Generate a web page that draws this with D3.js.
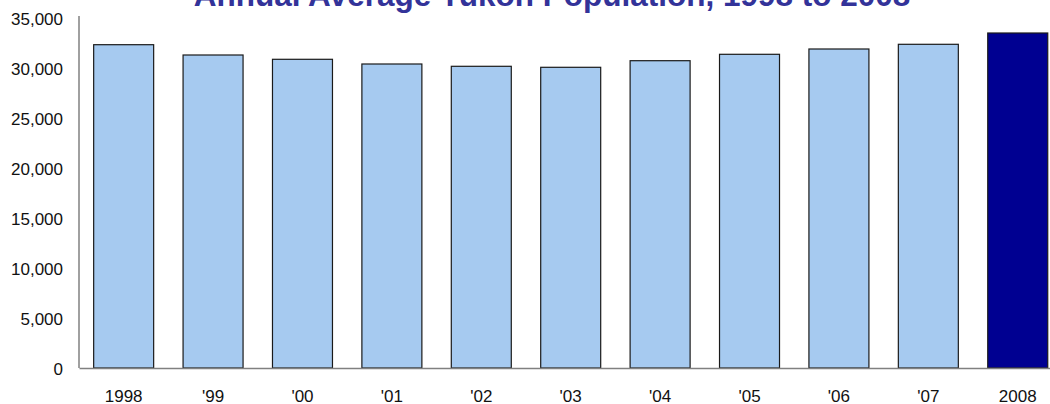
<!DOCTYPE html>
<html>
<head>
<meta charset="utf-8">
<script src="https://cdn.jsdelivr.net/npm/d3@7"></script>
<style>
  body { margin: 0; background: #fff; }
  svg { display: block; font-family: "Liberation Sans", Arial, sans-serif; }
</style>
</head>
<body>
<svg id="chart" width="1050" height="404"></svg>
<script>
var years  = ["1998", "'99", "'00", "'01", "'02", "'03", "'04", "'05", "'06", "'07", "2008"];
var population = [32330, 31300, 30870, 30400, 30170, 30070, 30730, 31370, 31900, 32370, 33500];
var yTicks = [0, 5000, 10000, 15000, 20000, 25000, 30000, 35000];
var titleText = "Annual Average Yukon Population, 1998 to 2008";

var svg = d3.select("#chart");

var plotLeft = 79, plotRight = 1062.4, plotTop = 18, plotBottom = 368;

var x = d3.scaleBand()
          .domain(years)
          .range([plotLeft, plotRight])
          .paddingInner(0.329)
          .paddingOuter(0.164);

var y = d3.scaleLinear()
          .domain([0, 35000])
          .range([plotBottom, plotTop]);

// title, cut off at the top like the original
svg.append("text")
   .attr("x", 552)
   .attr("y", 5.5)
   .attr("text-anchor", "middle")
   .style("font-size", "31.5px")
   .style("font-weight", "bold")
   .style("fill", "#333399")
   .text(titleText);

// bars
svg.append("g")
   .selectAll("rect")
   .data(population)
   .enter()
   .append("rect")
   .attr("x", (d, i) => x(years[i]))
   .attr("y", d => y(d))
   .attr("width", x.bandwidth())
   .attr("height", d => y(0) - y(d))
   .attr("fill", (d, i) => i === years.length - 1 ? "#000091" : "#a6caf0")
   .attr("stroke", "#1a1a1a")
   .attr("stroke-width", 1.2);

// y axis
var yAxis = svg.append("g")
   .attr("transform", "translate(" + plotLeft + ",0)")
   .call(d3.axisLeft(y)
           .tickValues(yTicks)
           .tickFormat(d3.format(","))
           .tickSize(0)
           .tickSizeOuter(0)
           .tickPadding(16));

yAxis.select(".domain").attr("stroke", "#808080").attr("stroke-width", 1.5)
     .attr("d", "M0," + (plotBottom) + "V" + (plotTop - 2));
yAxis.selectAll("text")
     .style("font-size", "17px")
     .style("fill", "#111")
     .attr("dy", "0.4em");

// x axis
var xAxis = svg.append("g")
   .attr("transform", "translate(0," + plotBottom + ")")
   .call(d3.axisBottom(x).tickSize(0).tickSizeOuter(0).tickPadding(22));

xAxis.select(".domain").attr("stroke", "#808080").attr("stroke-width", 1.5);
xAxis.selectAll("text")
     .style("font-size", "17px")
     .style("fill", "#111");
</script>
</body>
</html>
